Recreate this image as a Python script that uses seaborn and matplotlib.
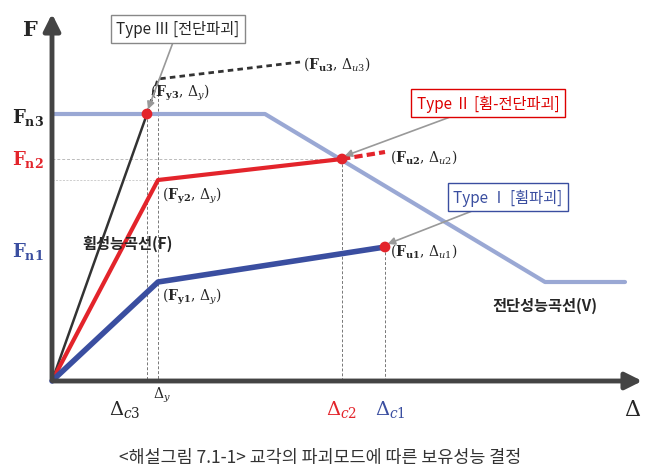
import matplotlib
matplotlib.use("Agg")
import matplotlib.pyplot as plt
import seaborn as sns

sns.set_style("white")
plt.rcParams['font.family'] = ['Noto Sans CJK KR', 'DejaVu Sans']
plt.rcParams['mathtext.fontset'] = 'dejavuserif'

# schematic coordinates (pixel-like units, y downward)
black_x = [52, 147]; black_y = [382, 115]
black_dash_x = [147, 158, 300]; black_dash_y = [115, 80, 63]
shear_x = [52, 265, 545, 625]; shear_y = [115, 115, 283, 283]
red_x = [52, 158, 342]; red_y = [382, 181, 160]
red_dash_x = [342, 385]; red_dash_y = [160, 153]
blue_x = [52, 158, 385]; blue_y = [382, 283, 248]
pts_red_x = [147, 342]; pts_red_y = [115, 160]
pts_blue_x = [385]; pts_blue_y = [248]

fig = plt.figure(figsize=(6.61, 4.77), dpi=100)
ax = fig.add_axes([0, 0, 1, 1])
ax.set_xlim(0, 661); ax.set_ylim(477, 0); ax.axis("off")

for x, y in [(147, 115), (158, 80), (342, 160), (385, 248)]:
    ax.plot([x, x], [y, 382], ls=(0, (3, 2)), color="#777", lw=0.7)
ax.plot([52, 342], [160, 160], ls=(0, (3, 2)), color="#bbb", lw=0.7)
ax.plot([52, 158], [181, 181], ls=(0, (3, 2)), color="#bbb", lw=0.5)

sns.lineplot(x=shear_x, y=shear_y, ax=ax, color="#9aa8d4", lw=3, sort=False)
sns.lineplot(x=black_x, y=black_y, ax=ax, color="#333", lw=1.8, sort=False)
sns.lineplot(x=black_dash_x, y=black_dash_y, ax=ax, color="#333", lw=2, ls=(0, (2, 1.5)), sort=False)
sns.lineplot(x=red_x, y=red_y, ax=ax, color="#e3242b", lw=3, sort=False)
sns.lineplot(x=red_dash_x, y=red_dash_y, ax=ax, color="#e3242b", lw=3, ls=(0, (2, 1)), sort=False)
sns.lineplot(x=blue_x, y=blue_y, ax=ax, color="#3a4ea0", lw=4, sort=False)
sns.scatterplot(x=pts_red_x, y=pts_red_y, ax=ax, color="#e3242b", s=60, zorder=5, edgecolor="none")
sns.scatterplot(x=pts_blue_x, y=pts_blue_y, ax=ax, color="#e3242b", s=60, zorder=5, edgecolor="none")

ax.annotate("", xy=(52, 12), xytext=(52, 384), arrowprops=dict(arrowstyle="-|>,head_width=0.5,head_length=1", lw=3.5, color="#444"))
ax.annotate("", xy=(645, 382), xytext=(50, 382), arrowprops=dict(arrowstyle="-|>,head_width=0.5,head_length=1", lw=3.5, color="#444"))

tf = dict(family=['DejaVu Serif'], fontweight="bold")
ax.text(30, 30, "F", fontsize=15, ha="center", va="center", **tf)
ax.text(28, 117, r"F$_{\mathbf{n3}}$", fontsize=13, ha="center", va="center", color="#222", **tf)
ax.text(28, 160, r"F$_{\mathbf{n2}}$", fontsize=13, ha="center", va="center", color="#e3242b", **tf)
ax.text(28, 252, r"F$_{\mathbf{n1}}$", fontsize=13, ha="center", va="center", color="#3a4ea0", **tf)
ax.text(125, 410, r"$\mathit{\Delta}_{c3}$", fontsize=14, ha="center", va="center")
ax.text(162, 395, r"$\mathit{\Delta}_{y}$", fontsize=10, ha="center", va="center")
ax.text(342, 410, r"$\mathit{\Delta}_{c2}$", fontsize=14, ha="center", va="center", color="#e3242b")
ax.text(390, 410, r"$\mathit{\Delta}_{c1}$", fontsize=14, ha="center", va="center", color="#3a4ea0")
ax.text(633, 410, r"$\mathbf{\mathit{\Delta}}$", fontsize=16, ha="center", va="center")

lab = dict(fontsize=10, va="center", family=['DejaVu Serif'])
ax.text(150, 93, r"($\mathbf{F_{y3}}$, $\mathit{\Delta_y}$)", **lab)
ax.text(303, 64, r"($\mathbf{F_{u3}}$, $\mathit{\Delta_{u3}}$)", **lab)
ax.text(390, 157, r"($\mathbf{F_{u2}}$, $\mathit{\Delta_{u2}}$)", **lab)
ax.text(162, 196, r"($\mathbf{F_{y2}}$, $\mathit{\Delta_y}$)", **lab)
ax.text(390, 251, r"($\mathbf{F_{u1}}$, $\mathit{\Delta_{u1}}$)", **lab)
ax.text(162, 297, r"($\mathbf{F_{y1}}$, $\mathit{\Delta_y}$)", **lab)
ax.text(82, 244, "휨성능곡선(F)", fontsize=11, va="center", fontweight="bold")
ax.text(492, 306, "전단성능곡선(V)", fontsize=11, va="center", fontweight="bold")

ax.annotate("Type Ⅲ [전단파괴]", xy=(147, 113), xytext=(178, 30), fontsize=11, ha="center", va="center",
            bbox=dict(boxstyle="square,pad=0.35", fc="white", ec="#888"),
            arrowprops=dict(arrowstyle="-|>", color="#999", lw=1.2, shrinkA=0))
ax.annotate("Type Ⅱ [휨-전단파괴]", xy=(342, 158), xytext=(488, 104), fontsize=11, ha="center", va="center",
            color="#d00", bbox=dict(boxstyle="square,pad=0.35", fc="white", ec="#d00"),
            arrowprops=dict(arrowstyle="-|>", color="#999", lw=1.2, shrinkA=0))
ax.annotate("Type Ⅰ [휨파괴]", xy=(385, 246), xytext=(508, 198), fontsize=11, ha="center", va="center",
            color="#3a4ea0", bbox=dict(boxstyle="square,pad=0.35", fc="white", ec="#3a4ea0"),
            arrowprops=dict(arrowstyle="-|>", color="#999", lw=1.2, shrinkA=0))

ax.text(320, 458, "<해설그림 7.1-1> 교각의 파괴모드에 따른 보유성능 결정", fontsize=12.5, ha="center", va="center", color="#333")

fig.savefig("out.png", dpi=100)
